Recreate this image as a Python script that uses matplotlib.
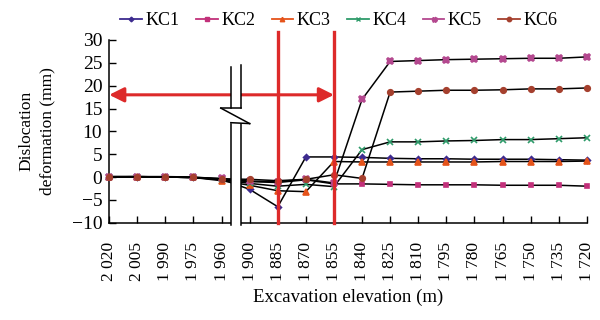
import matplotlib
matplotlib.use("Agg")
import matplotlib.pyplot as plt
from matplotlib.lines import Line2D
from matplotlib.patches import Rectangle

plt.rcParams['font.family'] = ['Liberation Serif', 'DejaVu Serif']

elevations = ["2 020", "2 005", "1 990", "1 975", "1 960", "1 900", "1 885", "1 870", "1 855",
              "1 840", "1 825", "1 810", "1 795", "1 780", "1 765", "1 750", "1 735", "1 720"]

kc1 = [0.1, 0.1, 0.0, -0.1, -0.5, -2.7, -6.5, 4.4, 4.4, 4.3, 4.1, 4.0, 4.0, 3.9, 3.9, 3.9, 3.8, 3.7]
kc2 = [0.0, 0.0, 0.0, -0.1, -0.6, -1.0, -1.2, -0.6, -1.5, -1.5, -1.6, -1.7, -1.7, -1.7, -1.8, -1.8, -1.8, -2.0]
kc3 = [0.0, 0.0, 0.0, -0.1, -0.8, -1.8, -3.0, -3.2, 3.4, 3.3, 3.3, 3.3, 3.3, 3.3, 3.4, 3.4, 3.4, 3.5]
kc4 = [0.0, 0.0, 0.0, -0.1, -0.5, -1.4, -2.0, -1.6, -2.1, 6.0, 7.7, 7.7, 7.9, 8.0, 8.2, 8.2, 8.4, 8.6]
kc5 = [0.0, 0.1, 0.0, -0.1, -0.3, -0.9, -1.0, -0.5, -1.3, 17.0, 25.3, 25.5, 25.7, 25.8, 25.9, 26.0, 26.0, 26.3]
kc6 = [0.1, 0.1, 0.1, 0.0, -0.4, -0.5, -0.8, -0.5, 0.5, -0.3, 18.6, 18.8, 19.0, 19.0, 19.1, 19.3, 19.3, 19.5]

series = [("KC1", kc1, "#3d2b8f", "D", 3),
          ("KC2", kc2, "#c2307a", "s", 3.5),
          ("KC3", kc3, "#e5531a", "^", 4),
          ("KC4", kc4, "#2e9b6a", "x", 4),
          ("KC5", kc5, "#b4488f", "X", 4.5),
          ("KC6", kc6, "#a5402e", "o", 4)]

red = "#dd2a2a"

fig = plt.figure(figsize=(6, 3.2), dpi=100)
ax = fig.add_axes([0.182, 0.304, 0.796, 0.571])

xs = list(range(len(elevations)))
handles = []
for name, vals, col, mk, ms in series:
    ax.plot(xs, vals, color="black", lw=1.1, marker=mk, ms=ms,
            mfc=col, mec=col, mew=1.2, zorder=3, clip_on=False)
    handles.append(Line2D([0], [0], color=col, lw=1.3, marker=mk, ms=ms * 0.8,
                          mfc=col, mec=col, label=name))

# stage boundaries and arrow
for xv in (6, 8):
    ax.plot([xv, xv], [-10, 31.7], color=red, lw=2.4, zorder=4, clip_on=False)
ax.annotate("", xy=(0, 18), xytext=(8, 18),
            arrowprops=dict(arrowstyle="<|-|>", color=red, lw=2.2,
                            mutation_scale=22, shrinkA=0, shrinkB=0), zorder=4)

# axis break symbol between 1 960 and 1 900
L, R = 4.33, 4.69
zt, zb = 15.1, 11.7
ax.add_patch(Rectangle((L, -10.6), R - L, 24 + 10.6, facecolor="white",
                       edgecolor="none", zorder=6, clip_on=False))
brk = dict(color="black", lw=1.1, zorder=7, clip_on=False)
ax.plot([L, L], [24, zt], **brk)
ax.plot([R, R], [24.5, zt], **brk)
ax.plot([3.97, R], [zt, zt], **brk)
ax.plot([3.97, 5.0], [zt, zb], **brk)
ax.plot([L, 5.0], [zb + 0.2, zb], **brk)
ax.plot([L, L], [zb, -10.6], **brk)
ax.plot([R, R], [zb, -10.6], **brk)

ax.set_xlim(0, 17)
ax.set_ylim(-10, 30)
ax.set_yticks(range(-10, 31, 5))
ax.set_xticks(xs)
ax.set_xticklabels(elevations, rotation=90)
ax.tick_params(direction="in", length=5, width=1, colors="black")
ax.tick_params(axis="x", pad=14, labelsize=12.5)
ax.tick_params(axis="y", pad=5, labelsize=14)
for s in ("top", "right"):
    ax.spines[s].set_visible(False)
for s in ("left", "bottom"):
    ax.spines[s].set_linewidth(1.1)

ax.set_xlabel("Excavation elevation (m)", fontsize=13.5, labelpad=5)
ax.set_ylabel("Dislocation\ndeformation (mm)", fontsize=12.5, labelpad=12, linespacing=1.4)

fig.legend(handles=handles, loc="center", bbox_to_anchor=(0.565, 0.935), ncol=6,
           frameon=False, fontsize=13, handlelength=1.2, handletextpad=0.2,
           columnspacing=0.9)

fig.savefig("out.png", dpi=100)
